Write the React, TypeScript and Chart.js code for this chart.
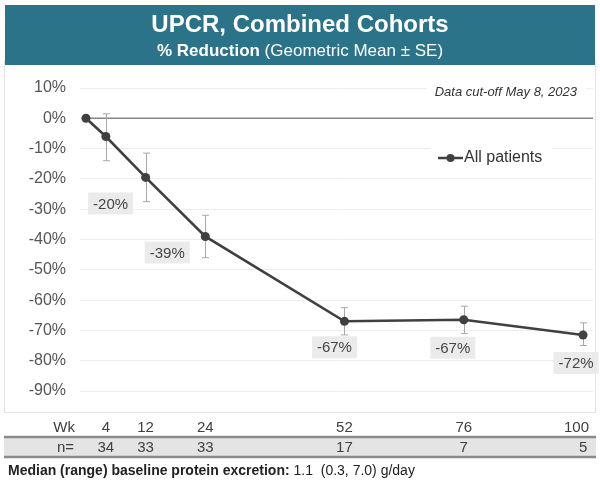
import React, { useEffect, useRef } from 'react';
import { Chart, registerables } from 'chart.js';

Chart.register(...registerables);

// ---- data ----
const weeks = [0, 4, 12, 24, 52, 76, 100];
const meanReduction = [0, -6, -19.5, -39, -67, -66.5, -71.5];
const seUpper = [null, 1.5, -11.5, -32, -62.5, -62, -67.5];
const seLower = [null, -14, -27.5, -46, -71.5, -71, -75];
const pointLabels = ['', '', '-20%', '-39%', '-67%', '-67%', '-72%'];
const tableWeeks = [4, 12, 24, 52, 76, 100];
const nPatients = [34, 33, 33, 17, 7, 5];
const seriesName = 'All patients';
const titleText = 'UPCR, Combined Cohorts';
const subtitleBold = '% Reduction ';
const subtitleNormal = '(Geometric Mean \u00b1 SE)';
const cutoffText = 'Data cut-off May 8, 2023';
const footerBold = 'Median (range) baseline protein excretion:';
const footerNormal = ' 1.1  (0.3, 7.0) g/day';

// ---- styles ----
const FONT = '"Liberation Sans", Arial, Helvetica, sans-serif';
const TEAL = '#2a7389';
const LINE = '#404040';
const labelOffsets = [
  [0, 0], [0, 0], [-35, 26], [-38, 16], [-10, 26], [-11, 28], [-7, 28],
];

const overlay = {
  id: 'overlay',
  beforeDraw(chart: any) {
    const ctx = chart.ctx;
    ctx.save();
    ctx.fillStyle = '#ffffff';
    ctx.fillRect(0, 0, chart.width, chart.height);
    // faint frame
    ctx.strokeStyle = '#e4e4e4';
    ctx.lineWidth = 1;
    ctx.strokeRect(4.5, 60.5, 591, 352);
    // banner
    ctx.fillStyle = TEAL;
    ctx.fillRect(5, 5, 590, 60);
    ctx.fillStyle = '#ffffff';
    ctx.textBaseline = 'middle';
    ctx.textAlign = 'center';
    ctx.font = `bold 24px ${FONT}`;
    ctx.fillText(titleText, 300, 25);
    ctx.font = `bold 17px ${FONT}`;
    const w1 = ctx.measureText(subtitleBold).width;
    ctx.font = `17px ${FONT}`;
    const w2 = ctx.measureText(subtitleNormal).width;
    const sx = 300 - (w1 + w2) / 2;
    ctx.textAlign = 'left';
    ctx.font = `bold 17px ${FONT}`;
    ctx.fillText(subtitleBold, sx, 51);
    ctx.font = `17px ${FONT}`;
    ctx.fillText(subtitleNormal, sx + w1, 51);
    ctx.restore();
  },
  beforeDatasetsDraw(chart: any) {
    const ctx = chart.ctx;
    const xs = chart.scales.x;
    const ys = chart.scales.y;
    const area = chart.chartArea;
    ctx.save();
    // zero line
    ctx.strokeStyle = '#858585';
    ctx.lineWidth = 1.6;
    ctx.beginPath();
    ctx.moveTo(xs.getPixelForValue(0), ys.getPixelForValue(0));
    ctx.lineTo(area.right, ys.getPixelForValue(0));
    ctx.stroke();
    // error bars
    ctx.strokeStyle = '#a8a8a8';
    ctx.lineWidth = 1;
    weeks.forEach((w, i) => {
      const hi = seUpper[i];
      const lo = seLower[i];
      if (hi === null || lo === null) return;
      const x = Math.round(xs.getPixelForValue(w)) + 0.5;
      const y1 = ys.getPixelForValue(hi);
      const y2 = ys.getPixelForValue(lo);
      ctx.beginPath();
      ctx.moveTo(x, y1);
      ctx.lineTo(x, y2);
      ctx.moveTo(x - 3.5, y1);
      ctx.lineTo(x + 3.5, y1);
      ctx.moveTo(x - 3.5, y2);
      ctx.lineTo(x + 3.5, y2);
      ctx.stroke();
    });
    ctx.restore();
  },
  afterDraw(chart: any) {
    const ctx = chart.ctx;
    const xs = chart.scales.x;
    const ys = chart.scales.y;
    ctx.save();
    // data cut-off text
    ctx.font = `italic 13px ${FONT}`;
    const cw = ctx.measureText(cutoffText).width;
    ctx.fillStyle = '#ffffff';
    ctx.fillRect(577 - cw - 8, 82, cw + 16, 20);
    ctx.fillStyle = '#333333';
    ctx.textAlign = 'right';
    ctx.textBaseline = 'middle';
    ctx.fillText(cutoffText, 577, 92);

    // legend
    ctx.fillStyle = '#ffffff';
    ctx.fillRect(430, 140, 122, 38);
    ctx.strokeStyle = LINE;
    ctx.lineWidth = 2.5;
    ctx.beginPath();
    ctx.moveTo(438, 158);
    ctx.lineTo(463, 158);
    ctx.stroke();
    ctx.fillStyle = LINE;
    ctx.beginPath();
    ctx.arc(450.5, 158, 4, 0, Math.PI * 2);
    ctx.fill();
    ctx.fillStyle = '#333333';
    ctx.textAlign = 'left';
    ctx.font = `16px ${FONT}`;
    ctx.fillText(chart.data.datasets[0].label, 464, 158);

    // point labels
    ctx.font = `15px ${FONT}`;
    ctx.textAlign = 'center';
    weeks.forEach((w, i) => {
      const t = pointLabels[i];
      if (!t) return;
      const px = xs.getPixelForValue(w) + labelOffsets[i][0];
      const py = ys.getPixelForValue(meanReduction[i]) + labelOffsets[i][1];
      const tw = ctx.measureText(t).width;
      ctx.fillStyle = '#ebebeb';
      ctx.fillRect(px - tw / 2 - 5, py - 11, tw + 10, 22);
      ctx.fillStyle = '#454545';
      ctx.fillText(t, px, py + 1);
    });

    // table
    ctx.fillStyle = '#e4e4e4';
    ctx.fillRect(4, 437, 592, 20);
    ctx.strokeStyle = '#8a8a8a';
    ctx.lineWidth = 2.5;
    ctx.beginPath();
    ctx.moveTo(4, 437);
    ctx.lineTo(596, 437);
    ctx.moveTo(4, 457);
    ctx.lineTo(596, 457);
    ctx.stroke();

    ctx.font = `15px ${FONT}`;
    ctx.fillStyle = '#404040';
    ctx.textAlign = 'right';
    ctx.fillText('Wk', 75, 428);
    ctx.fillText('n=', 74, 448);
    tableWeeks.forEach((w, i) => {
      const x = xs.getPixelForValue(w);
      [String(w), String(nPatients[i])].forEach((t, r) => {
        const tw = ctx.measureText(t).width;
        let cx = x;
        if (cx + tw / 2 > 589) cx = 589 - tw / 2;
        ctx.textAlign = 'center';
        ctx.fillText(t, cx, r === 0 ? 428 : 448);
      });
    });

    // footer
    ctx.textAlign = 'left';
    ctx.fillStyle = '#222222';
    ctx.font = `bold 14px ${FONT}`;
    ctx.fillText(footerBold, 8, 471);
    const fw = ctx.measureText(footerBold).width;
    ctx.font = `14px ${FONT}`;
    ctx.fillText(footerNormal, 8 + fw, 471);
    ctx.restore();
  },
};

export default function App() {
  const ref = useRef<HTMLCanvasElement | null>(null);
  useEffect(() => {
    if (!ref.current) return;
    const chart = new Chart(ref.current, {
      type: 'line',
      data: {
        datasets: [
          {
            label: seriesName,
            data: weeks.map((w, i) => ({ x: w, y: meanReduction[i] })),
            borderColor: LINE,
            backgroundColor: LINE,
            borderWidth: 2.6,
            pointRadius: 4.5,
            pointBackgroundColor: LINE,
            pointBorderWidth: 0,
            tension: 0,
          },
        ],
      },
      options: {
        animation: false,
        responsive: false,
        devicePixelRatio: 1,
        layout: { padding: { top: 88, bottom: 93, left: 0, right: 7 } },
        plugins: {
          legend: { display: false },
          tooltip: { enabled: false },
        },
        scales: {
          x: {
            type: 'linear',
            display: false,
            min: -1.2,
            max: 102,
          },
          y: {
            min: -90,
            max: 10,
            afterFit: (s: any) => {
              s.width = 80;
            },
            border: { display: false },
            grid: { color: '#ededed', lineWidth: 1, drawTicks: false },
            ticks: {
              stepSize: 10,
              padding: 14,
              color: '#555555',
              font: { family: FONT, size: 16 },
              callback: (v: any) => `${v}%`,
            },
          },
        },
      },
      plugins: [overlay],
    });
    return () => chart.destroy();
  }, []);
  return (
    <div style={{ position: 'absolute', left: 0, top: 0, width: 600, height: 484 }}>
      <canvas ref={ref} width={600} height={484} />
    </div>
  );
}
